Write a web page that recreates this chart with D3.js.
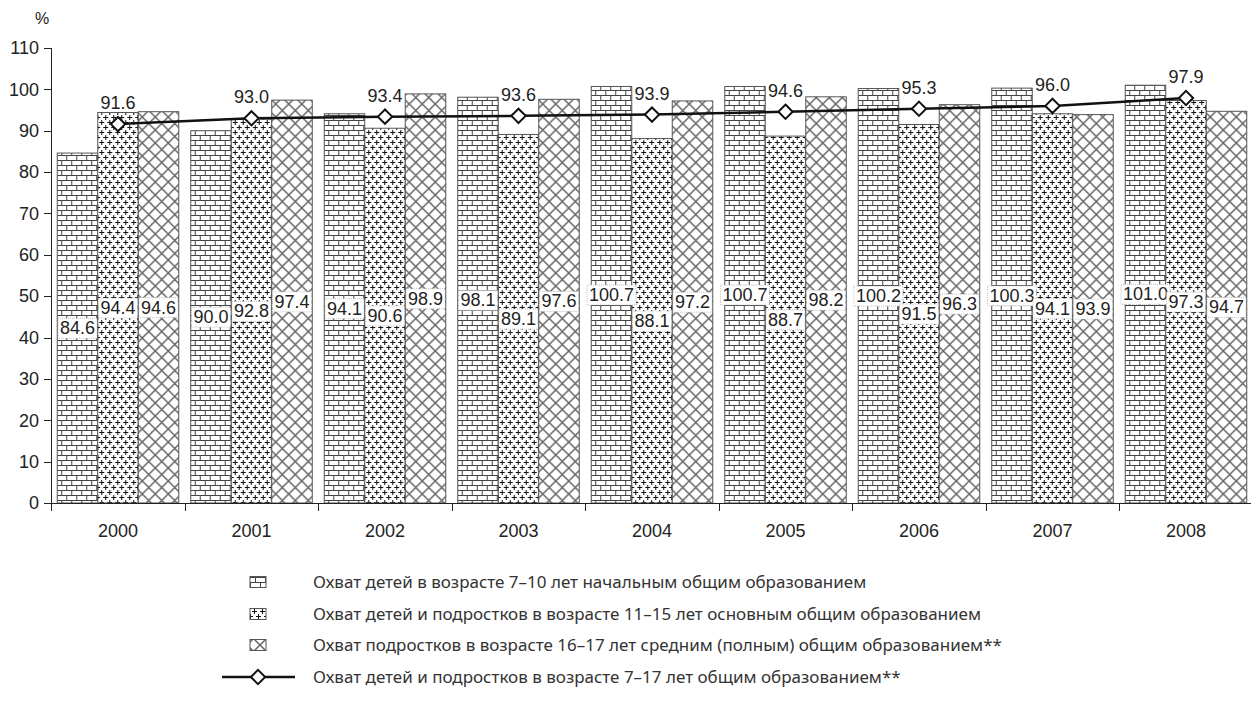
<!DOCTYPE html>
<html>
<head>
<meta charset="utf-8">
<script src="https://cdn.jsdelivr.net/npm/d3@7"></script>
<style>
  body { margin: 0; background: #fff; }
  svg { display: block; }
  .num { font-family: "Liberation Sans Narrow", "Arial Narrow", "Liberation Sans", sans-serif; font-size: 18px; fill: #222; }
  .leg { font-family: "Noto Sans", "Open Sans", sans-serif; font-size: 17px; fill: #333; }
</style>
</head>
<body>
<svg width="1251" height="702"></svg>
<script>
var years = ["2000", "2001", "2002", "2003", "2004", "2005", "2006", "2007", "2008"]
var primary = [84.6, 90.0, 94.1, 98.1, 100.7, 100.7, 100.2, 100.3, 101.0]
var basic = [94.4, 92.8, 90.6, 89.1, 88.1, 88.7, 91.5, 94.1, 97.3]
var secondary = [94.6, 97.4, 98.9, 97.6, 97.2, 98.2, 96.3, 93.9, 94.7]
var general = [91.6, 93.0, 93.4, 93.6, 93.9, 94.6, 95.3, 96.0, 97.9]
var yTicks = [0, 10, 20, 30, 40, 50, 60, 70, 80, 90, 100, 110]
var legendLabels = [
    "Охват детей в возрасте 7–10 лет начальным общим образованием",
    "Охват детей и подростков в возрасте 11–15 лет основным общим образованием",
    "Охват подростков в возрасте 16–17 лет средним (полным) общим образованием**",
    "Охват детей и подростков в возрасте 7–17 лет общим образованием**"
]

var svg = d3.select("svg")

var x = d3.scaleBand().domain(years).range([51.25, 1252.75])
var x1 = d3.scaleBand().domain([0, 1, 2]).range([6, x.bandwidth() - 6])
var y = d3.scaleLinear().domain([0, 110]).range([503, 48])

// patterns
var defs = svg.append("defs")

var brick = defs.append("pattern").attr("id", "brick")
    .attr("patternUnits", "userSpaceOnUse").attr("width", 10).attr("height", 10)
brick.append("rect").attr("width", 10).attr("height", 10).attr("fill", "#fff")
brick.append("path")
    .attr("d", "M0,0.5H10M0,5.5H10M0.5,0V5M5.5,5V10")
    .attr("stroke", "#444").attr("stroke-width", 1).attr("fill", "none")

var cross = defs.append("pattern").attr("id", "cross")
    .attr("patternUnits", "userSpaceOnUse").attr("width", 8).attr("height", 10)
cross.append("rect").attr("width", 8).attr("height", 10).attr("fill", "#fff")
cross.append("path")
    .attr("d", "M0,2.5H5M2.5,0V5M4,7.5H8M0,7.5H1M6.5,5V10")
    .attr("stroke", "#111").attr("stroke-width", 1).attr("fill", "none")

var hatch = defs.append("pattern").attr("id", "hatch")
    .attr("patternUnits", "userSpaceOnUse").attr("width", 13).attr("height", 13)
hatch.append("rect").attr("width", 13).attr("height", 13).attr("fill", "#fff")
hatch.append("path")
    .attr("d", "M0,0L13,13M0,13L13,0")
    .attr("stroke", "#666").attr("stroke-width", 1.5).attr("fill", "none")

var fills = ["url(#brick)", "url(#cross)", "url(#hatch)"]
var series = [primary, basic, secondary]

// bars
var groups = svg.append("g").selectAll("g")
    .data(years).enter().append("g")
    .attr("transform", function (d) { return "translate(" + x(d) + ",0)" })

groups.selectAll("rect")
    .data(function (d, i) { return series.map(function (s, k) { return { k: k, v: s[i] } }) })
    .enter().append("rect")
    .attr("x", function (d) { return x1(d.k) })
    .attr("width", x1.bandwidth())
    .attr("y", function (d) { return y(d.v) })
    .attr("height", function (d) { return y(0) - y(d.v) })
    .attr("fill", function (d) { return fills[d.k] })
    .attr("stroke", "#555")
    .attr("stroke-width", 1)

// bar value labels, in the middle of the bar
var lab = groups.selectAll("g.lab")
    .data(function (d, i) { return series.map(function (s, k) { return { k: k, v: s[i] } }) })
    .enter().append("g").attr("class", "lab")
    .attr("transform", function (d) {
        return "translate(" + (x1(d.k) + x1.bandwidth() / 2) + "," + y(d.v / 2) + ")"
    })
lab.append("text").attr("class", "num")
    .attr("text-anchor", "middle").attr("dy", "0.35em")
    .text(function (d) { return d.v.toFixed(1) })
lab.each(function () {
    var g = d3.select(this)
    var b = g.select("text").node().getBBox()
    g.insert("rect", "text")
        .attr("x", b.x - 2).attr("y", b.y)
        .attr("width", b.width + 4).attr("height", b.height)
        .attr("fill", "#fff").attr("stroke", "#aaa")
        .attr("stroke-width", 0.7).attr("stroke-dasharray", "1,1")
})

// y axis
var yAxis = svg.append("g")
yAxis.append("line").attr("x1", 51.5).attr("x2", 51.5).attr("y1", y(110)).attr("y2", y(0)).attr("stroke", "#222")
yAxis.selectAll("line.t").data(yTicks).enter().append("line")
    .attr("x1", 44).attr("x2", 51.5)
    .attr("y1", function (d) { return Math.round(y(d)) + 0.5 })
    .attr("y2", function (d) { return Math.round(y(d)) + 0.5 })
    .attr("stroke", "#222")
yAxis.selectAll("text").data(yTicks).enter().append("text")
    .attr("class", "num").attr("text-anchor", "end")
    .attr("x", 39).attr("y", function (d) { return y(d) }).attr("dy", "0.35em")
    .text(function (d) { return d })
svg.append("text").attr("class", "num").attr("x", 42).attr("y", 24)
    .attr("text-anchor", "middle").style("font-size", "16px").text("%")

// x axis
var xAxis = svg.append("g")
xAxis.append("line").attr("x1", 44).attr("x2", 1251).attr("y1", y(0) + 0.5).attr("y2", y(0) + 0.5).attr("stroke", "#222")
xAxis.selectAll("line.t").data(years).enter().append("line")
    .attr("x1", function (d) { return Math.round(x(d)) + 0.5 })
    .attr("x2", function (d) { return Math.round(x(d)) + 0.5 })
    .attr("y1", y(0)).attr("y2", y(0) + 8)
    .attr("stroke", "#222")
xAxis.selectAll("text").data(years).enter().append("text")
    .attr("class", "num").attr("text-anchor", "middle")
    .attr("x", function (d) { return x(d) + x.bandwidth() / 2 })
    .attr("y", 537)
    .text(function (d) { return d })

// line
var cx = function (d, i) { return x(years[i]) + x1(1) + x1.bandwidth() / 2 }
var line = d3.line().x(cx).y(function (d) { return y(d) })
svg.append("path").datum(general)
    .attr("d", line).attr("fill", "none")
    .attr("stroke", "#111").attr("stroke-width", 2.5)

var diamond = d3.symbol().type(d3.symbolDiamond2).size(130)
svg.append("g").selectAll("path")
    .data(general).enter().append("path")
    .attr("d", diamond)
    .attr("transform", function (d, i) { return "translate(" + cx(d, i) + "," + y(d) + ")" })
    .attr("fill", "#fff").attr("stroke", "#111").attr("stroke-width", 2)

svg.append("g").selectAll("text")
    .data(general).enter().append("text")
    .attr("class", "num").attr("text-anchor", "middle")
    .attr("x", cx).attr("y", function (d) { return y(d) - 15 })
    .text(function (d) { return d.toFixed(1) })

// legend
var legend = svg.append("g")
var rowY = [582, 614, 645, 677]
legendLabels.forEach(function (t, i) {
    var g = legend.append("g").attr("transform", "translate(0," + rowY[i] + ")")
    if (i < 3) {
        g.append("rect").attr("x", 250).attr("y", -5.5).attr("width", 16).attr("height", 11)
            .attr("fill", fills[i]).attr("stroke", "#555")
    } else {
        g.append("line").attr("x1", 222).attr("x2", 295).attr("y1", 0).attr("y2", 0)
            .attr("stroke", "#111").attr("stroke-width", 2.5)
        g.append("path").attr("d", diamond).attr("transform", "translate(258,0)")
            .attr("fill", "#fff").attr("stroke", "#111").attr("stroke-width", 2)
    }
    g.append("text").attr("class", "leg").attr("x", 313).attr("dy", "0.35em").text(t)
})
</script>
</body>
</html>
